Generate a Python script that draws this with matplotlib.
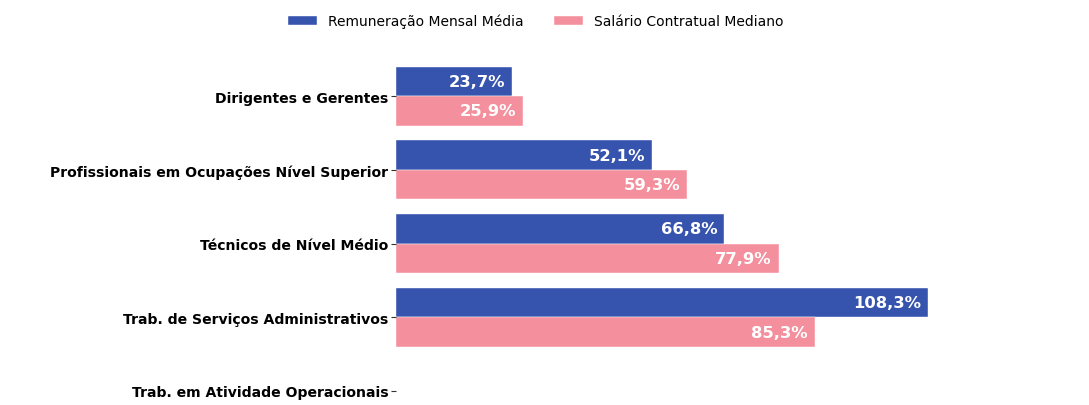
import matplotlib
matplotlib.use("Agg")
import matplotlib.pyplot as plt
import numpy as np

plt.rcParams["font.family"] = ["DejaVu Sans"]

categories = ["Dirigentes e Gerentes",
              "Profissionais em Ocupações Nível Superior",
              "Técnicos de Nível Médio",
              "Trab. de Serviços Administrativos",
              "Trab. em Atividade Operacionais"]
remuneracao = [23.7, 52.1, 66.8, 108.3, np.nan]
salario = [25.9, 59.3, 77.9, 85.3, np.nan]
series_names = ["Remuneração Mensal Média", "Salário Contratual Mediano"]
colors = ["#3653ad", "#f4909d"]

W, H = 1089, 406
fig = plt.figure(figsize=(W / 100, H / 100), dpi=100)
# axes geometry in pixels
left_px = 396
px_per_unit = 4.912
xmax = 140
width_px = xmax * px_per_unit
cat_step = 73.75
ylim_top = -0.57
ylim_bot = 4.5
top_px = 97 + ylim_top * cat_step
height_px = (ylim_bot - ylim_top) * cat_step
ax = fig.add_axes([left_px / W, 1 - (top_px + height_px) / H, width_px / W, height_px / H])

y = np.arange(len(categories))
h = 0.4
b1 = ax.barh(y - h / 2, remuneracao, height=h, color=colors[0], label=series_names[0],
             edgecolor="white", linewidth=0.3)
b2 = ax.barh(y + h / 2, salario, height=h, color=colors[1], label=series_names[1],
             edgecolor="white", linewidth=0.3)

for bars, vals in [(b1, remuneracao), (b2, salario)]:
    for rect, v in zip(bars, vals):
        if np.isnan(v):
            continue
        ax.annotate(f"{v:.1f}%".replace(".", ","),
                    xy=(v, rect.get_y() + rect.get_height() / 2),
                    xytext=(-5, 0), textcoords="offset points",
                    ha="right", va="center", color="white",
                    fontsize=11.8, fontweight="bold")

ax.set_xlim(0, xmax)
ax.set_ylim(ylim_bot, ylim_top)
ax.set_yticks(y)
ax.set_yticklabels(categories, fontsize=10.1, fontweight="bold")
ax.tick_params(axis="y", length=3.5, width=0.8, pad=2, color="#333333")
ax.set_xticks([])
for s in ax.spines.values():
    s.set_visible(False)

fig.legend(handles=[b1, b2], labels=series_names, loc="center",
           bbox_to_anchor=(0.492, 1 - 22 / H), ncol=2, frameon=False,
           fontsize=10, handlelength=2.1, handleheight=0.6, handletextpad=0.8,
           columnspacing=2.2)

fig.savefig("out.png", dpi=100)
